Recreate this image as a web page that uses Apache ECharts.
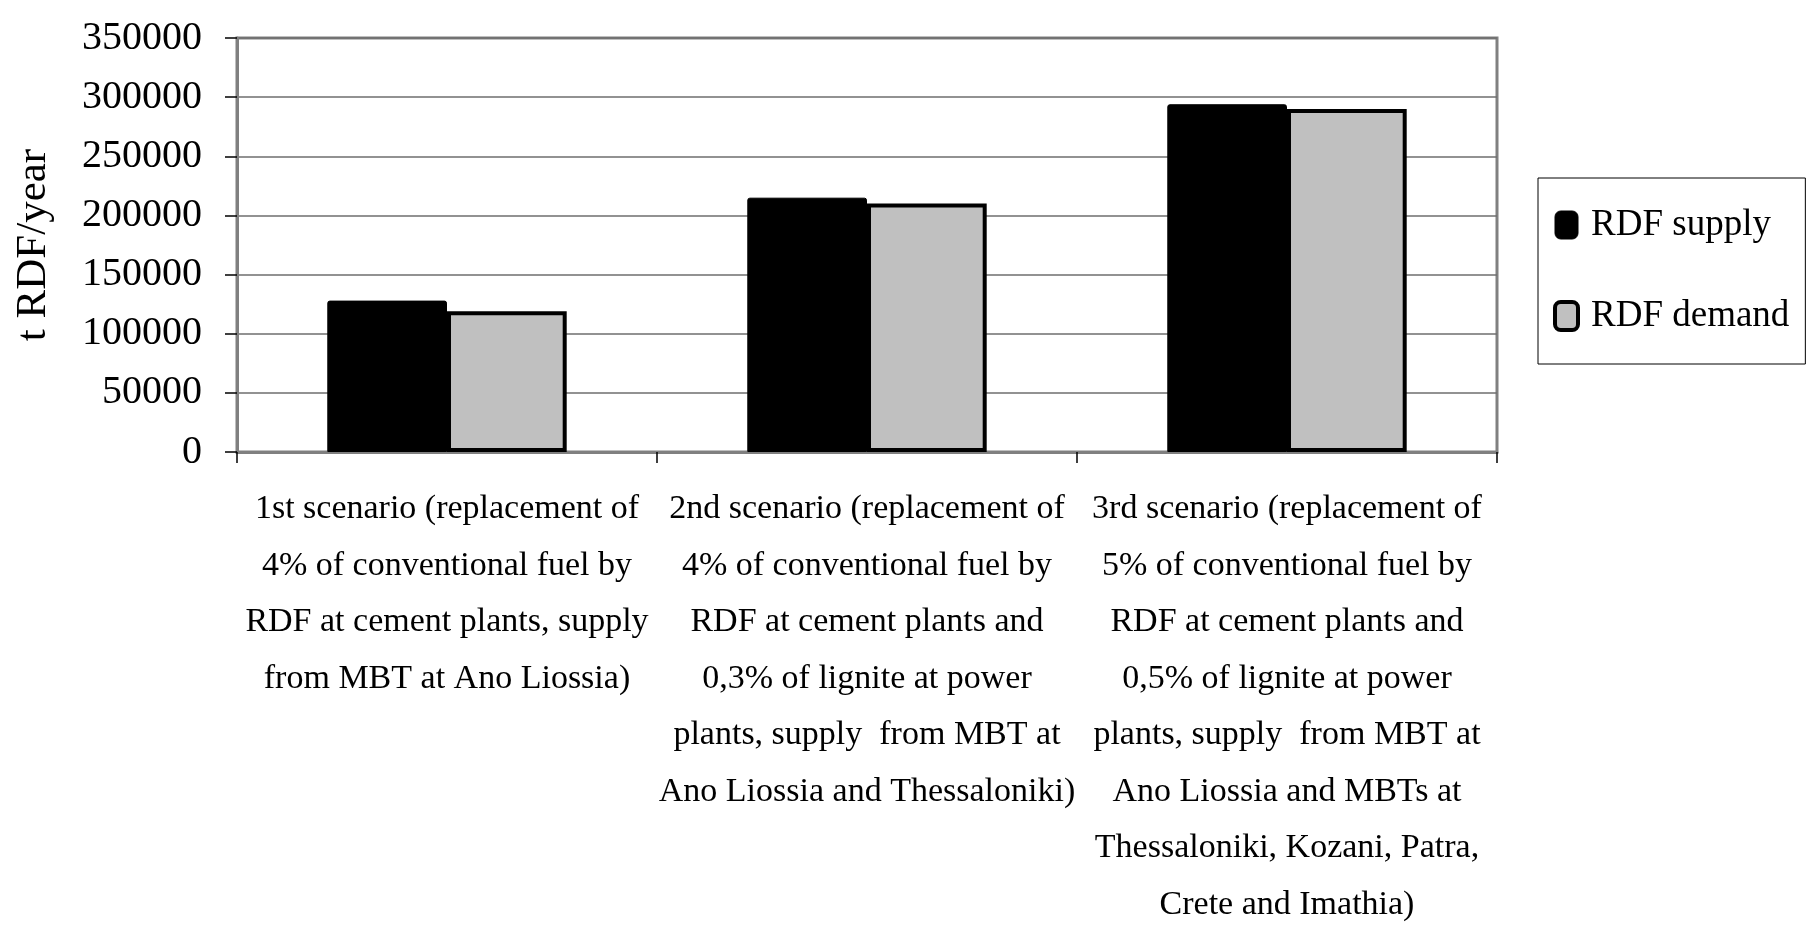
<!DOCTYPE html>
<html>
<head>
<meta charset="utf-8">
<script src="https://cdn.jsdelivr.net/npm/echarts@6/dist/echarts.min.js"></script>
<style>
html,body{margin:0;padding:0;background:#fff;}
#chart{width:1809px;height:925px;}
</style>
</head>
<body>
<div id="chart"></div>
<script>
const categories = [
  "1st scenario (replacement of\n4% of conventional fuel by\nRDF at cement plants, supply\nfrom MBT at Ano Liossia)",
  "2nd scenario (replacement of\n4% of conventional fuel by\nRDF at cement plants and\n0,3% of lignite at power\nplants, supply  from MBT at\nAno Liossia and Thessaloniki)",
  "3rd scenario (replacement of\n5% of conventional fuel by\nRDF at cement plants and\n0,5% of lignite at power\nplants, supply  from MBT at\nAno Liossia and MBTs at\nThessaloniki, Kozani, Patra,\nCrete and Imathia)"
];
const seriesNames = ["RDF supply", "RDF demand"];
const rdfSupply = [128000, 215000, 294000];
const rdfDemand = [119000, 210000, 290000];
const yAxisName = "t RDF/year";
const yMin = 0, yMax = 350000, yInterval = 50000;

const FONT = "'Liberation Serif', 'Times New Roman', serif";
const chart = echarts.init(document.getElementById('chart'), null, {renderer: 'canvas'});
chart.setOption({
  animation: false,
  backgroundColor: '#fff',
  grid: {
    left: 237, top: 38, right: 312, bottom: 473,
    containLabel: false, outerBoundsMode: 'none',
    show: true, borderColor: '#808080', borderWidth: 3, backgroundColor: 'transparent'
  },
  legend: {
    orient: 'vertical',
    left: 1538, top: 178,
    padding: [23, 16, 24, 15],
    itemWidth: 23, itemHeight: 28, itemGap: 43,
    backgroundColor: '#fff', borderColor: '#000', borderWidth: 1,
    textStyle: {fontFamily: FONT, fontSize: 37, color: '#000', lineHeight: 48, padding: [0, 0, 0, 8]},
    data: [
      {name: seriesNames[0], icon: 'roundRect', itemStyle: {color: '#000', borderColor: '#000', borderWidth: 1}},
      {name: seriesNames[1], icon: 'roundRect', itemStyle: {color: '#c0c0c0', borderColor: '#000', borderWidth: 4}}
    ]
  },
  xAxis: {
    type: 'category',
    data: categories,
    axisLine: {show: true, lineStyle: {color: '#808080', width: 3}},
    axisTick: {show: true, length: 11, lineStyle: {color: '#000', width: 1.5}},
    axisLabel: {
      interval: 0, margin: 29, fontFamily: FONT, fontSize: 34, color: '#000',
      lineHeight: 56.5, align: 'center'
    },
    splitLine: {show: false}
  },
  yAxis: {
    type: 'value',
    min: yMin, max: yMax, interval: yInterval,
    name: yAxisName,
    nameLocation: 'middle',
    nameRotate: 90,
    nameGap: 182,
    nameTextStyle: {fontFamily: FONT, fontSize: 43, color: '#000'},
    axisLine: {show: true, lineStyle: {color: '#808080', width: 3}},
    axisTick: {show: true, inside: false, length: 12, lineStyle: {color: '#000', width: 1.5}},
    axisLabel: {margin: 35, fontFamily: FONT, fontSize: 40, color: '#000', formatter: v => String(v)},
    splitLine: {show: true, lineStyle: {color: '#6e6e6e', width: 1.5}}
  },
  series: [
    {
      name: seriesNames[0], type: 'bar', data: rdfSupply,
      barGap: '0%', barCategoryGap: '43%',
      itemStyle: {color: '#000', borderColor: '#000', borderWidth: 1, borderRadius: [2, 2, 0, 0]}
    },
    {
      name: seriesNames[1], type: 'bar', data: rdfDemand,
      barGap: '0%', barCategoryGap: '43%',
      itemStyle: {color: '#c0c0c0', borderColor: '#000', borderWidth: 4}
    }
  ]
});
</script>
</body>
</html>
